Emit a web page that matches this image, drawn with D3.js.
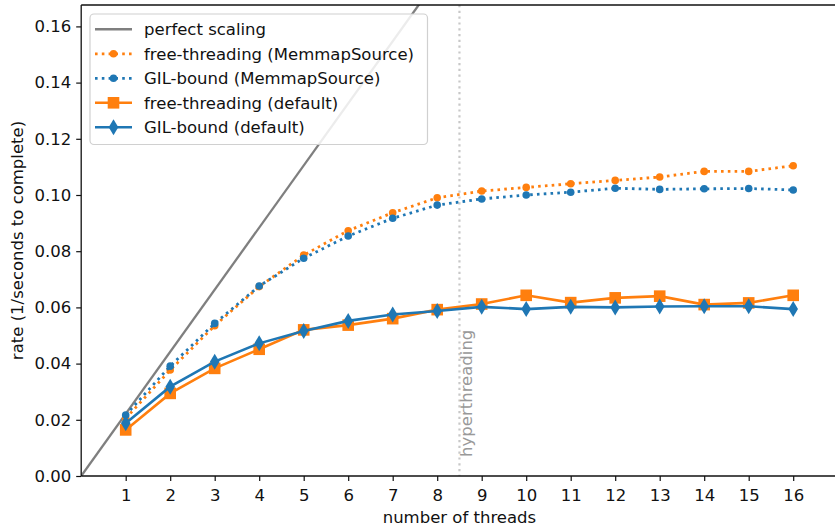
<!DOCTYPE html>
<html>
<head>
<meta charset="utf-8">
<script src="https://d3js.org/d3.v7.min.js"></script>
<style>
  body { margin: 0; background: white; }
  text { font-family: "DejaVu Sans", sans-serif; font-size: 16.5px; fill: #111; }
</style>
</head>
<body>
<script>
// data
let threads = d3.range(1, 17);
let freeMemmap = [0.0205, 0.0377, 0.0535, 0.0674, 0.0786, 0.0873, 0.0937, 0.0990, 0.1014, 0.1027, 0.1040, 0.1052, 0.1064, 0.1084, 0.1084, 0.1104];
let gilMemmap  = [0.0217, 0.0391, 0.0543, 0.0676, 0.0775, 0.0854, 0.0917, 0.0964, 0.0986, 0.1000, 0.1010, 0.1024, 0.1020, 0.1022, 0.1023, 0.1018];
let freeDefault = [0.0164, 0.0294, 0.0383, 0.0451, 0.0520, 0.0537, 0.0560, 0.0592, 0.0612, 0.0643, 0.0617, 0.0634, 0.0640, 0.0610, 0.0616, 0.0643];
let gilDefault  = [0.0188, 0.0318, 0.0407, 0.0472, 0.0516, 0.0552, 0.0575, 0.0587, 0.0602, 0.0594, 0.0602, 0.0600, 0.0603, 0.0604, 0.0604, 0.0594];
let perfectRate = 0.0221;   // rate of one thread, scaled linearly
let hyperthreadingAt = 8.5;
let yTicks = [0, 0.02, 0.04, 0.06, 0.08, 0.10, 0.12, 0.14, 0.16];

let width = 835, height = 527;
let plotLeft = 81.2, plotTop = 5, plotBottom = 476;

let svg = d3.select('body').append('svg').attr('width', width).attr('height', height);

let x = d3.scaleLinear().domain([0, 17]).range([plotLeft, plotLeft + 17 * 44.5]);
let y = d3.scaleLinear().domain([0, 0.16]).range([plotBottom, plotBottom - 8 * 56.2]);

svg.append('clipPath').attr('id', 'plot')
  .append('rect').attr('x', plotLeft).attr('y', plotTop).attr('width', x(17) - plotLeft).attr('height', plotBottom - plotTop);

let plot = svg.append('g').attr('clip-path', 'url(#plot)');

// hyperthreading marker
plot.append('line')
  .attr('x1', x(hyperthreadingAt)).attr('x2', x(hyperthreadingAt))
  .attr('y1', plotTop).attr('y2', plotBottom)
  .attr('stroke', '#c8c8c8').attr('stroke-width', 2.2).attr('stroke-dasharray', '2.2,3.6');
svg.append('text')
  .attr('transform', `translate(${x(hyperthreadingAt) + 13},${y(0.0068)}) rotate(-90)`)
  .style('fill', '#999').text('hyperthreading');

// perfect scaling
plot.append('path')
  .datum([0, 17])
  .attr('d', d3.line().x(d => x(d)).y(d => y(d * perfectRate)))
  .attr('fill', 'none').attr('stroke', '#7f7f7f').attr('stroke-width', 2.3);

let line = d3.line().x((d, i) => x(threads[i])).y(d => y(d));

function dotted(vals, color) {
  plot.append('path').datum(vals).attr('d', line)
    .attr('fill', 'none').attr('stroke', color).attr('stroke-width', 2.8)
    .attr('stroke-dasharray', '2.6,4.2');
  plot.selectAll(null).data(vals).enter().append('circle')
    .attr('cx', (d, i) => x(threads[i])).attr('cy', d => y(d)).attr('r', 3.8)
    .attr('fill', color);
}
dotted(freeMemmap, '#ff7f0e');
dotted(gilMemmap, '#1f77b4');

plot.append('path').datum(freeDefault).attr('d', line)
  .attr('fill', 'none').attr('stroke', '#ff7f0e').attr('stroke-width', 2.6);
plot.selectAll(null).data(freeDefault).enter().append('rect')
  .attr('x', (d, i) => x(threads[i]) - 5.8).attr('y', d => y(d) - 5.8)
  .attr('width', 11.6).attr('height', 11.6).attr('fill', '#ff7f0e');

let diamond = 'M0,-8L4.8,0L0,8L-4.8,0Z';
plot.append('path').datum(gilDefault).attr('d', line)
  .attr('fill', 'none').attr('stroke', '#1f77b4').attr('stroke-width', 2.6);
plot.selectAll(null).data(gilDefault).enter().append('path')
  .attr('transform', (d, i) => `translate(${x(threads[i])},${y(d)})`)
  .attr('d', diamond).attr('fill', '#1f77b4');

// axes
let xAxis = svg.append('g').attr('transform', `translate(0,${plotBottom})`)
  .call(d3.axisBottom(x).tickValues(threads).tickSize(5).tickPadding(8).tickFormat(d3.format('d')));
let yAxis = svg.append('g').attr('transform', `translate(${plotLeft},0)`)
  .call(d3.axisLeft(y).tickValues(yTicks).tickSize(5).tickPadding(5).tickFormat(d3.format('.2f')));
[xAxis, yAxis].forEach(a => {
  a.select('.domain').remove();
  a.selectAll('.tick line').attr('stroke', '#111').attr('stroke-width', 1.2);
  a.selectAll('.tick text').style('font-size', '16.5px').style('font-family', '"DejaVu Sans", sans-serif').attr('fill', '#111');
});

// spines (right one falls outside the picture)
svg.append('line').attr('x1', plotLeft).attr('x2', width).attr('y1', plotBottom).attr('y2', plotBottom).attr('stroke', '#111').attr('stroke-width', 1.3);
svg.append('line').attr('x1', plotLeft).attr('x2', width).attr('y1', plotTop).attr('y2', plotTop).attr('stroke', '#111').attr('stroke-width', 1.3);
svg.append('line').attr('x1', plotLeft).attr('x2', plotLeft).attr('y1', plotTop).attr('y2', plotBottom).attr('stroke', '#111').attr('stroke-width', 1.3);

svg.append('text').attr('x', (plotLeft + x(17)) / 2).attr('y', 523).attr('text-anchor', 'middle').text('number of threads');
svg.append('text').attr('transform', `translate(23,${(plotTop + plotBottom) / 2}) rotate(-90)`)
  .attr('text-anchor', 'middle').text('rate (1/seconds to complete)');

// legend
let legendItems = [
  {label: 'perfect scaling', color: '#7f7f7f', kind: 'plain'},
  {label: 'free-threading (MemmapSource)', color: '#ff7f0e', kind: 'dot'},
  {label: 'GIL-bound (MemmapSource)', color: '#1f77b4', kind: 'dot'},
  {label: 'free-threading (default)', color: '#ff7f0e', kind: 'square'},
  {label: 'GIL-bound (default)', color: '#1f77b4', kind: 'diamond'}
];
let lg = svg.append('g');
lg.append('rect').attr('x', 90).attr('y', 14).attr('width', 337.5).attr('height', 130.5)
  .attr('rx', 4).attr('fill', 'white').attr('fill-opacity', 0.85).attr('stroke', '#d0d0d0').attr('stroke-width', 1.2);
let rows = lg.selectAll('.legends').data(legendItems).enter().append('g')
  .attr('transform', (d, i) => `translate(0,${29.3 + i * 24.5})`);
rows.append('line').attr('x1', 95).attr('x2', 132).attr('y1', 0).attr('y2', 0)
  .attr('stroke', d => d.color).attr('stroke-width', d => d.kind === 'dot' ? 2.8 : 2.6)
  .attr('stroke-dasharray', d => d.kind === 'dot' ? '2.6,4.2' : null);
rows.filter(d => d.kind === 'dot').append('circle').attr('cx', 113.5).attr('cy', 0).attr('r', 3.8).attr('fill', d => d.color);
rows.filter(d => d.kind === 'square').append('rect').attr('x', 107.7).attr('y', -5.8).attr('width', 11.6).attr('height', 11.6).attr('fill', d => d.color);
rows.filter(d => d.kind === 'diamond').append('path').attr('transform', 'translate(113.5,0)').attr('d', diamond).attr('fill', d => d.color);
rows.append('text').attr('x', 144).attr('y', 6).text(d => d.label);
</script>
</body>
</html>
